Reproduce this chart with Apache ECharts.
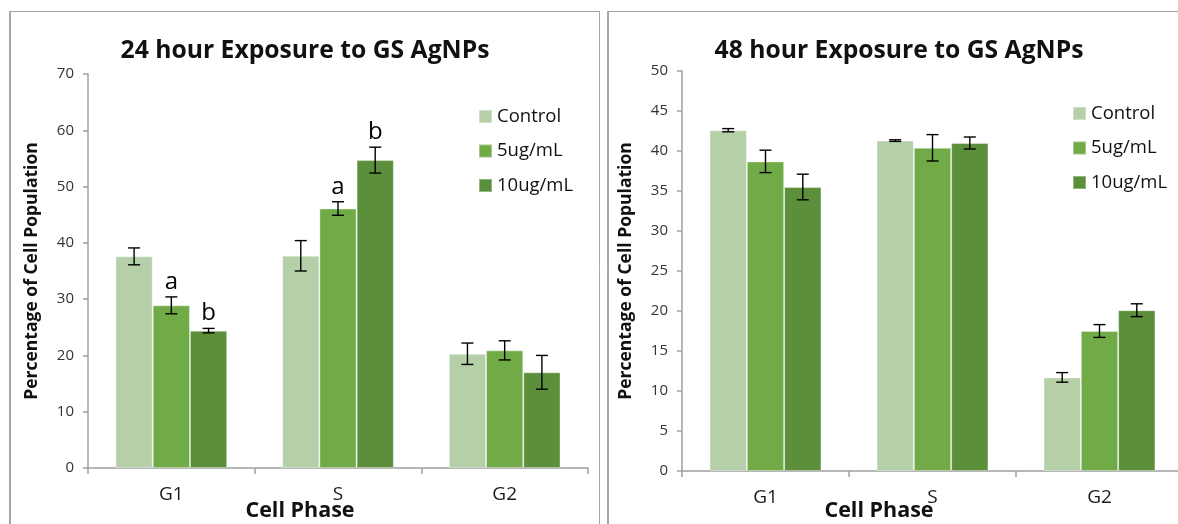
<!DOCTYPE html>
<html>
<head>
<meta charset="utf-8">
<script src="https://cdn.jsdelivr.net/npm/echarts@6/dist/echarts.min.js"></script>
<style>
  html, body { margin: 0; padding: 0; background: #fff; }
  #chart { width: 1178px; height: 524px; }
</style>
</head>
<body>
<div id="chart"></div>
<script>
// Cell-cycle phase distribution after GS AgNP exposure
const phases = ['G1', 'S', 'G2'];
const treatments = ['Control', '5ug/mL', '10ug/mL'];
const yTicks24 = { min: 0, max: 70, interval: 10 };
const yTicks48 = { min: 0, max: 50, interval: 5 };

// 24 hour exposure: mean % and error
const h24Control = [37.6, 37.7, 20.3];
const h24ControlErr = [1.5, 2.7, 1.9];
const h24Low = [28.9, 46.1, 20.9];
const h24LowErr = [1.5, 1.2, 1.7];
const h24High = [24.4, 54.7, 17.0];
const h24HighErr = [0.4, 2.3, 3.0];
// significance letters above the 24 h bars
const h24LowMarks = ['a', 'a', ''];
const h24HighMarks = ['b', 'b', ''];

// 48 hour exposure: mean % and error
const h48Control = [42.6, 41.3, 11.7];
const h48ControlErr = [0.2, 0.1, 0.6];
const h48Low = [38.7, 40.4, 17.5];
const h48LowErr = [1.4, 1.65, 0.8];
const h48High = [35.5, 41.0, 20.1];
const h48HighErr = [1.6, 0.75, 0.8];

const colors = ['#b5cfa8', '#70ab47', '#5b8f3b'];
const FONT = 'Open Sans';
const GAP = 0.33;  // barCategoryGap as fraction

function barSeries(name, values, idx, axis) {
  return {
    type: 'bar', name: name, data: values,
    xAxisIndex: axis, yAxisIndex: axis,
    barGap: '0%', barCategoryGap: (GAP * 100) + '%',
    itemStyle: { color: colors[idx], borderColor: 'rgba(255,255,255,0.35)', borderWidth: 1 },
    emphasis: { disabled: true }
  };
}

function errSeries(values, errs, marks, idx, axis) {
  return {
    type: 'custom', xAxisIndex: axis, yAxisIndex: axis, z: 5,
    silent: true,
    encode: { x: 0, y: 1 },
    data: values.map((v, i) => [i, v, errs[i]]),
    renderItem: function (params, api) {
      const cat = api.value(0), v = api.value(1), e = api.value(2);
      const band = api.size([1, 0])[0];
      const bw = band * (1 - GAP) / 3;
      const off = (idx - 1) * bw;
      const top = api.coord([cat, v + e]);
      const bot = api.coord([cat, v - e]);
      const x = top[0] + off;
      const cap = 6;
      const style = { stroke: '#000', lineWidth: 1.4 };
      const children = [
        { type: 'line', shape: { x1: x, y1: top[1], x2: x, y2: bot[1] }, style: style },
        { type: 'line', shape: { x1: x - cap, y1: top[1], x2: x + cap, y2: top[1] }, style: style },
        { type: 'line', shape: { x1: x - cap, y1: bot[1], x2: x + cap, y2: bot[1] }, style: style }
      ];
      const m = marks ? marks[params.dataIndex] : '';
      if (m) {
        children.push({
          type: 'text',
          style: { text: m, x: x, y: top[1] - 3, textAlign: 'center', textVerticalAlign: 'bottom',
                   font: '24px "' + FONT + '"', fill: '#000' }
        });
      }
      return { type: 'group', children: children };
    }
  };
}

function xAxis(gridIndex, namePad, nameGap) {
  return {
    type: 'category', gridIndex: gridIndex, data: phases,
    axisLine: { lineStyle: { color: '#a0a0a0', width: 1.5 } },
    axisTick: { show: true, length: 6, lineStyle: { color: '#a0a0a0', width: 1.5 } },
    axisLabel: { color: '#1a1a1a', fontSize: 19, fontFamily: FONT, margin: 17 },
    name: 'Cell Phase', nameLocation: 'middle', nameGap: nameGap, nameMoveOverlap: false,
    nameTextStyle: { fontSize: 21.5, fontWeight: 'bold', fontFamily: FONT, color: '#111', padding: [0, namePad, 0, 0] }
  };
}

function yAxis(gridIndex, ticks) {
  return {
    type: 'value', gridIndex: gridIndex, min: ticks.min, max: ticks.max, interval: ticks.interval,
    splitLine: { show: false },
    axisLine: { show: true, lineStyle: { color: '#a0a0a0', width: 1.5 } },
    axisTick: { show: true, length: 5, lineStyle: { color: '#a0a0a0', width: 1.5 } },
    axisLabel: { color: '#333', fontSize: 15, fontFamily: FONT, margin: 14 },
    name: 'Percentage of Cell Population', nameLocation: 'middle', nameGap: 47, nameMoveOverlap: false,
    nameTextStyle: { fontSize: 17.5, fontWeight: 'bold', fontFamily: FONT, color: '#111' }
  };
}

function legend(left, top) {
  return {
    data: treatments, orient: 'vertical', left: left, top: top,
    icon: 'rect', itemWidth: 13, itemHeight: 13, itemGap: 15.5,
    textStyle: { fontSize: 18.5, fontFamily: FONT, color: '#111' },
    selectedMode: false
  };
}

const chart = echarts.init(document.getElementById('chart'), null, { renderer: 'canvas' });
chart.setOption({
  animation: false,
  backgroundColor: '#fff',
  title: [
    { text: '24 hour Exposure to GS AgNPs', left: 300, top: 33, textAlign: 'center',
      textStyle: { fontSize: 24.7, fontWeight: 'bold', fontFamily: FONT, color: '#111' } },
    { text: '48 hour Exposure to GS AgNPs', left: 894, top: 33, textAlign: 'center',
      textStyle: { fontSize: 24.7, fontWeight: 'bold', fontFamily: FONT, color: '#111' } }
  ],
  legend: [legend(473, 102), legend(1067, 99)],
  grid: [
    { left: 88, top: 74, width: 500, height: 394, outerBoundsMode: 'none' },
    { left: 682, top: 71, width: 501, height: 400, outerBoundsMode: 'none' }
  ],
  xAxis: [xAxis(0, 76, 32), xAxis(1, 107, 29)],
  yAxis: [yAxis(0, yTicks24), yAxis(1, yTicks48)],
  graphic: [
    // panel frames
    { type: 'rect', shape: { x: 9.5, y: 11.5, width: 590, height: 600 }, style: { fill: 'none', stroke: '#a6a6a6', lineWidth: 1 }, silent: true },
    { type: 'line', shape: { x1: 10.5, y1: 12, x2: 10.5, y2: 524 }, style: { stroke: '#a6a6a6', lineWidth: 1 }, silent: true },
    { type: 'rect', shape: { x: 607.5, y: 11.5, width: 600, height: 600 }, style: { fill: 'none', stroke: '#a6a6a6', lineWidth: 1 }, silent: true },
    { type: 'line', shape: { x1: 608.5, y1: 12, x2: 608.5, y2: 524 }, style: { stroke: '#a6a6a6', lineWidth: 1 }, silent: true }
  ],
  series: [
    barSeries(treatments[0], h24Control, 0, 0),
    barSeries(treatments[1], h24Low, 1, 0),
    barSeries(treatments[2], h24High, 2, 0),
    errSeries(h24Control, h24ControlErr, null, 0, 0),
    errSeries(h24Low, h24LowErr, h24LowMarks, 1, 0),
    errSeries(h24High, h24HighErr, h24HighMarks, 2, 0),
    barSeries(treatments[0], h48Control, 0, 1),
    barSeries(treatments[1], h48Low, 1, 1),
    barSeries(treatments[2], h48High, 2, 1),
    errSeries(h48Control, h48ControlErr, null, 0, 1),
    errSeries(h48Low, h48LowErr, null, 1, 1),
    errSeries(h48High, h48HighErr, null, 2, 1)
  ]
});
</script>
</body>
</html>
